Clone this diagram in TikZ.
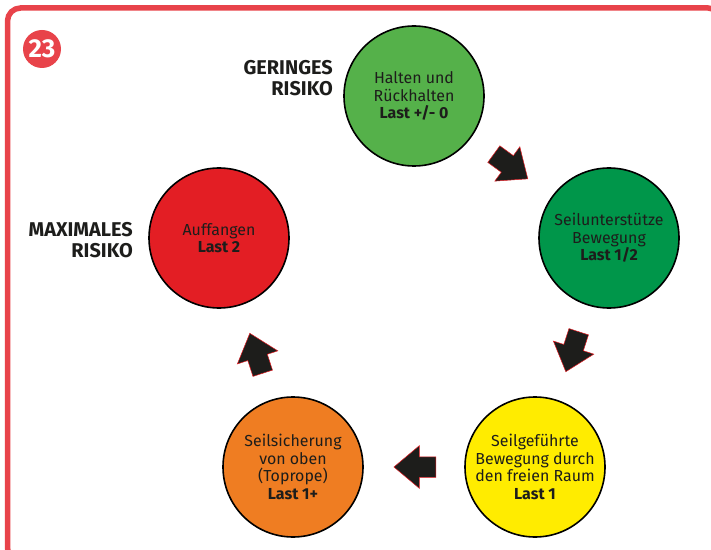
\documentclass[tikz,border=0pt]{standalone}
\usepackage{fontspec}
\setmainfont{Fira Sans}
\usetikzlibrary{shapes.arrows}
\definecolor{framered}{HTML}{E8434A}
\definecolor{holdgreen}{HTML}{55B14A}
\definecolor{guidegreen}{HTML}{00964A}
\definecolor{freeyellow}{HTML}{FFEC00}
\definecolor{toporange}{HTML}{EF7D22}
\definecolor{catchred}{HTML}{E31E24}
\definecolor{ink}{HTML}{1D1D1B}
\tikzset{
  phase/.style={
    circle,
    minimum size=140bp,
    inner sep=0mm,
    draw=black,
    line width=1.6bp,
    text=ink,
    align=center,
    font=\fontsize{16}{17.7}\selectfont
  },
  risklabel/.style={
    anchor=east,
    align=right,
    inner sep=0mm,
    text=ink,
    font=\fontsize{20}{21}\selectfont\bfseries
  },
  badge/.style={
    circle,
    minimum size=38bp,
    inner sep=0mm,
    fill=framered,
    text=white,
    font=\fontsize{26}{26}\selectfont\bfseries
  },
  flow/.style={
    single arrow,
    single arrow tip angle=80,
    single arrow head extend=11bp,
    single arrow head indent=0bp,
    minimum width=42bp,
    minimum height=42bp,
    inner xsep=0mm,
    inner ysep=10bp,
    fill=ink,
    draw=catchred,
    line width=0.5bp,
    sloped,
    allow upside down,
    pos=0.43
  }
}

\begin{document}
\begin{tikzpicture}[x=1bp,y=-1bp]
    \useasboundingbox (0,0) rectangle (711,550);
    \draw[framered, line width=5.5bp, rounded corners=13bp] (7.5,8) rectangle (721,561);
    \node[badge] (num) at (42,49) {23};
    % the five stages
    \node[phase,fill=holdgreen] (hold) at (414,96) {Halten und\\Rückhalten\\\textbf{Last +/- 0}};
    \node[phase,fill=guidegreen] (guide) at (609,238) {Seilunterstütze\\Bewegung\\\textbf{Last 1/2}};
    \node[phase,fill=freeyellow] (free) at (535,467) {Seilgeführte\\Bewegung durch\\den freien Raum\\\textbf{Last 1}};
    \node[phase,fill=toporange] (toprope) at (293,467) {Seilsicherung\\von oben\\(Toprope)\\\textbf{Last 1+}};
    \node[phase,fill=catchred] (catch) at (219,238) {Auffangen\\\textbf{Last 2}};
    \node[risklabel] (low) at (333,78) {GERINGES\\RISIKO};
    \node[risklabel] (high) at (133,240) {MAXIMALES\\RISIKO};
    % arrows
    \path (hold) -- (guide) node[flow] {};
    \path (guide) -- (free) node[flow] {};
    \path (free) -- (toprope) node[flow] {};
    \path (toprope) -- (catch) node[flow] {};
\end{tikzpicture}
\end{document}
